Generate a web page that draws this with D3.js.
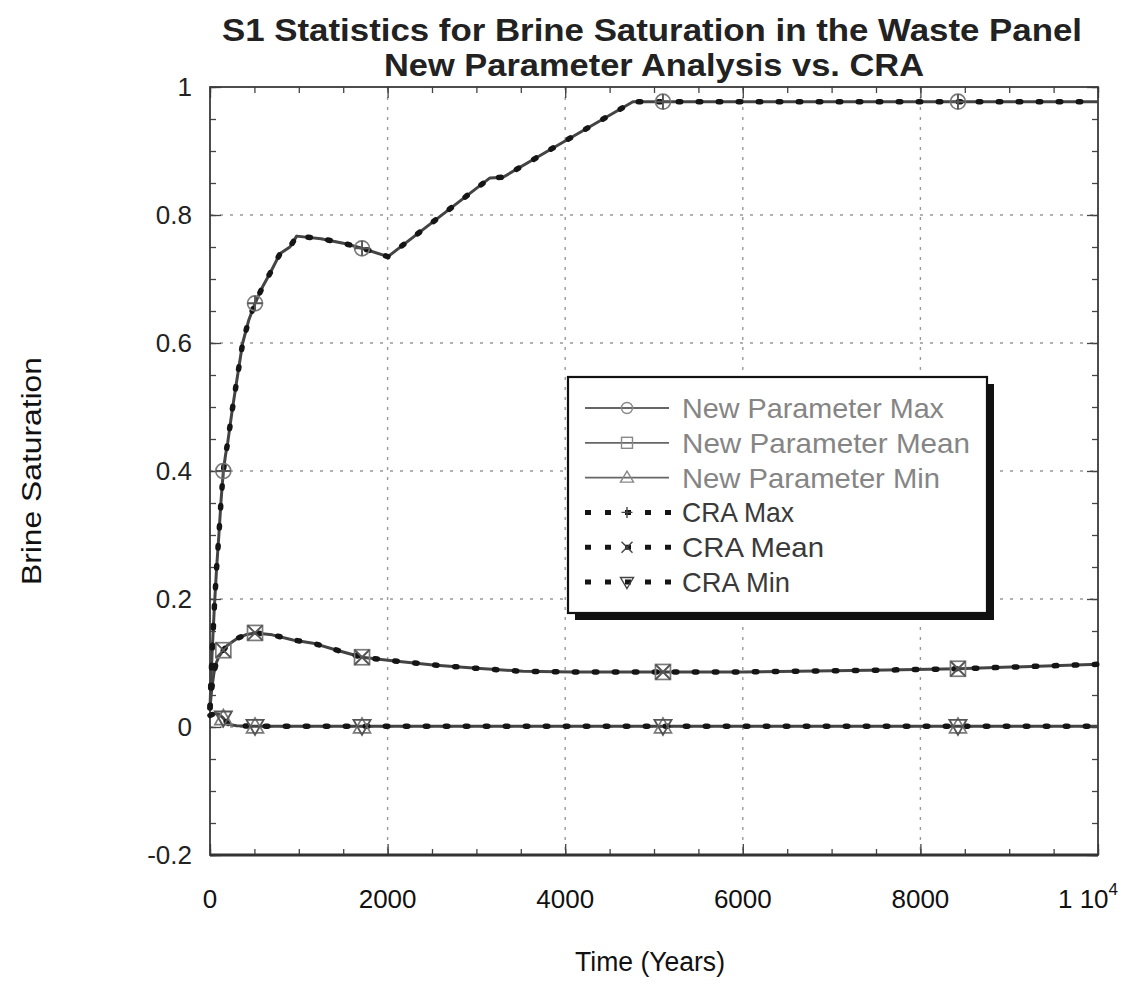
<!DOCTYPE html>
<html>
<head>
<meta charset="utf-8">
<script src="https://cdn.jsdelivr.net/npm/d3@7"></script>
<style>
  body { margin: 0; background: #fff; }
  svg { display: block; }
  text { font-family: "Liberation Sans", Arial, sans-serif; }
</style>
</head>
<body>
<svg id="chart" width="1143" height="993"></svg>
<script>
// ---------------- DATA ----------------
const titleLines = ["S1 Statistics for Brine Saturation in the Waste Panel", "New Parameter Analysis vs. CRA"];
const xLabel = "Time (Years)";
const yLabel = "Brine Saturation";

const xTickValues = [0, 2000, 4000, 6000, 8000, 10000];
const xTickLabels = ["0", "2000", "4000", "6000", "8000", "1 10"];
const yTickValues = [-0.2, 0, 0.2, 0.4, 0.6, 0.8, 1];
const yTickLabels = ["-0.2", "0", "0.2", "0.4", "0.6", "0.8", "1"];

const markerTimes = [150, 507, 1712, 5101, 8423];

// New Parameter analysis
const npMaxT = [0, 10, 25, 50, 75, 100, 125, 150, 175, 200, 250, 300, 368, 435, 507, 600, 676, 790, 900, 976, 1250, 1500, 1712, 2004, 2500, 3153, 3300, 3829, 4763, 5101, 6000, 7000, 8423, 10000];
const npMaxV = [0.03, 0.07, 0.12, 0.19, 0.25, 0.30, 0.355, 0.40, 0.425, 0.445, 0.495, 0.54, 0.60, 0.635, 0.662, 0.69, 0.709, 0.74, 0.75, 0.767, 0.763, 0.756, 0.748, 0.735, 0.788, 0.858, 0.859, 0.902, 0.977, 0.977, 0.977, 0.977, 0.977, 0.977];

const npMeanT = [0, 10, 20, 45, 70, 100, 150, 200, 260, 315, 400, 507, 700, 935, 1160, 1430, 1712, 2027, 2511, 2962, 3525, 4088, 5101, 6000, 7620, 8423, 10000];
const npMeanV = [0.03, 0.045, 0.06, 0.085, 0.1, 0.11, 0.12, 0.128, 0.134, 0.139, 0.144, 0.147, 0.144, 0.136, 0.131, 0.12, 0.109, 0.104, 0.097, 0.092, 0.087, 0.086, 0.086, 0.086, 0.089, 0.091, 0.098];

const npMinT = [0, 50, 100, 150, 170, 200, 250, 300, 507, 1000, 1712, 3000, 5101, 8423, 10000];
const npMinV = [0.018, 0.021, 0.02, 0.014, 0.01, 0.006, 0.003, 0.002, 0.001, 0.001, 0.001, 0.001, 0.001, 0.001, 0.001];

// CRA (visually coincident with the new parameter curves)
const craMaxT = [0, 10, 25, 50, 75, 100, 125, 150, 175, 200, 250, 300, 368, 435, 507, 600, 676, 790, 900, 976, 1250, 1500, 1712, 2004, 2500, 3153, 3300, 3829, 4763, 5101, 6000, 7000, 8423, 10000];
const craMaxV = [0.03, 0.07, 0.12, 0.19, 0.25, 0.30, 0.355, 0.40, 0.425, 0.445, 0.495, 0.54, 0.60, 0.635, 0.662, 0.69, 0.709, 0.74, 0.75, 0.767, 0.763, 0.756, 0.748, 0.735, 0.788, 0.858, 0.859, 0.902, 0.977, 0.977, 0.977, 0.977, 0.977, 0.977];

const craMeanT = [0, 10, 20, 45, 70, 100, 150, 200, 260, 315, 400, 507, 700, 935, 1160, 1430, 1712, 2027, 2511, 2962, 3525, 4088, 5101, 6000, 7620, 8423, 10000];
const craMeanV = [0.03, 0.045, 0.06, 0.085, 0.1, 0.11, 0.12, 0.128, 0.134, 0.139, 0.144, 0.147, 0.144, 0.136, 0.131, 0.12, 0.109, 0.104, 0.097, 0.092, 0.087, 0.086, 0.086, 0.086, 0.089, 0.091, 0.098];

const craMinT = [0, 50, 100, 150, 170, 200, 250, 300, 507, 1000, 1712, 3000, 5101, 8423, 10000];
const craMinV = [0.018, 0.021, 0.02, 0.014, 0.01, 0.006, 0.003, 0.002, 0.001, 0.001, 0.001, 0.001, 0.001, 0.001, 0.001];

const seriesNames = ["New Parameter Max", "New Parameter Mean", "New Parameter Min", "CRA Max", "CRA Mean", "CRA Min"];
const seriesMarkers = ["circle", "square", "triangleUp", "plus", "cross", "triangleDown"];

// ---------------- CHART ----------------
const svg = d3.select("#chart");
const W = 1143, H = 993;
svg.append("rect").attr("width", W).attr("height", H).attr("fill", "#fff");

const plot = { left: 210, right: 1098, top: 87, bottom: 855 };
const x = d3.scaleLinear().domain([0, 10000]).range([plot.left, plot.right]);
const y = d3.scaleLinear().domain([-0.2, 1]).range([plot.bottom, plot.top]);

// gridlines
const grid = svg.append("g").attr("stroke", "#999").attr("stroke-width", 1.4).attr("stroke-dasharray", "3,7");
grid.selectAll("line.gx").data(xTickValues.slice(1, -1)).join("line")
  .attr("x1", d => x(d)).attr("x2", d => x(d)).attr("y1", plot.top).attr("y2", plot.bottom);
grid.selectAll("line.gy").data(yTickValues.slice(1, -1)).join("line")
  .attr("y1", d => y(d)).attr("y2", d => y(d)).attr("x1", plot.left).attr("x2", plot.right);

// axes (inward ticks on all four sides)
const xMinor = d3.range(0, 10001, 500);
const yMinor = d3.range(-0.2, 1.0001, 0.05);
function styleAxis(g) {
  g.select(".domain").remove();
  g.selectAll("line").attr("stroke", "#444").attr("stroke-width", 1.3);
  g.selectAll("text").remove();
}
svg.append("g").attr("transform", `translate(0,${plot.bottom})`).call(d3.axisBottom(x).tickValues(xMinor).tickSize(-6)).call(styleAxis);
svg.append("g").attr("transform", `translate(0,${plot.bottom})`).call(d3.axisBottom(x).tickValues(xTickValues).tickSize(-11)).call(styleAxis);
svg.append("g").attr("transform", `translate(0,${plot.top})`).call(d3.axisTop(x).tickValues(xMinor).tickSize(-6)).call(styleAxis);
svg.append("g").attr("transform", `translate(0,${plot.top})`).call(d3.axisTop(x).tickValues(xTickValues).tickSize(-11)).call(styleAxis);
svg.append("g").attr("transform", `translate(${plot.left},0)`).call(d3.axisLeft(y).tickValues(yMinor).tickSize(-6)).call(styleAxis);
svg.append("g").attr("transform", `translate(${plot.left},0)`).call(d3.axisLeft(y).tickValues(yTickValues).tickSize(-11)).call(styleAxis);
svg.append("g").attr("transform", `translate(${plot.right},0)`).call(d3.axisRight(y).tickValues(yMinor).tickSize(-6)).call(styleAxis);
svg.append("g").attr("transform", `translate(${plot.right},0)`).call(d3.axisRight(y).tickValues(yTickValues).tickSize(-11)).call(styleAxis);

// frame
svg.append("rect").attr("x", plot.left).attr("y", plot.top)
  .attr("width", plot.right - plot.left).attr("height", plot.bottom - plot.top)
  .attr("fill", "none").attr("stroke", "#3a3a3a").attr("stroke-width", 1.8);
svg.append("line").attr("x1", plot.left).attr("x2", plot.right).attr("y1", plot.bottom).attr("y2", plot.bottom)
  .attr("stroke", "#333").attr("stroke-width", 2.8);

// tick labels
svg.append("g").selectAll("text").data(yTickValues).join("text")
  .attr("x", plot.left - 18).attr("y", d => y(d)).attr("dy", "0.36em")
  .attr("text-anchor", "end").attr("font-size", 26).attr("fill", "#222")
  .text((d, i) => yTickLabels[i]);
const xl = svg.append("g").selectAll("text").data(xTickValues).join("text")
  .attr("x", (d, i) => i === xTickValues.length - 1 ? x(d) - 10 : x(d)).attr("y", plot.bottom + 53)
  .attr("text-anchor", "middle").attr("font-size", 26).attr("fill", "#111")
  .text((d, i) => xTickLabels[i]);
xl.filter((d, i) => i === xTickValues.length - 1).append("tspan")
  .attr("dy", -13).attr("font-size", 17).text("4");

// axis titles
svg.append("text").attr("x", 650).attr("y", 971)
  .attr("text-anchor", "middle").attr("font-size", 27).attr("fill", "#111")
  .attr("textLength", 150).attr("lengthAdjust", "spacingAndGlyphs").text(xLabel);
svg.append("text").attr("transform", `translate(41,${(plot.top + plot.bottom) / 2}) rotate(-90)`)
  .attr("text-anchor", "middle").attr("font-size", 27).attr("fill", "#111")
  .attr("textLength", 228).attr("lengthAdjust", "spacingAndGlyphs").text(yLabel);

// title
svg.append("text").attr("x", 652).attr("y", 41).attr("text-anchor", "middle")
  .attr("font-size", 32).attr("font-weight", "bold").attr("fill", "#222")
  .attr("textLength", 860).attr("lengthAdjust", "spacingAndGlyphs").text(titleLines[0]);
svg.append("text").attr("x", 654).attr("y", 76).attr("text-anchor", "middle")
  .attr("font-size", 32).attr("font-weight", "bold").attr("fill", "#222")
  .attr("textLength", 540).attr("lengthAdjust", "spacingAndGlyphs").text(titleLines[1]);

// ---------------- SERIES ----------------
const series = [
  { t: npMaxT, v: npMaxV, kind: "np" },
  { t: npMeanT, v: npMeanV, kind: "np" },
  { t: npMinT, v: npMinV, kind: "np" },
  { t: craMaxT, v: craMaxV, kind: "cra" },
  { t: craMeanT, v: craMeanV, kind: "cra" },
  { t: craMinT, v: craMinV, kind: "cra" }
];
series.forEach((s, i) => { s.name = seriesNames[i]; s.marker = seriesMarkers[i]; s.pts = s.t.map((t, j) => [t, s.v[j]]); });

const styles = {
  np: { stroke: "#444", width: 3, dash: null, cap: "butt", mstroke: "#7a7a7a", mwidth: 1.7 },
  cra: { stroke: "#151515", width: 5.5, dash: "2.5,17.5", cap: "round", mstroke: "#555", mwidth: 1.9 }
};

const line = d3.line().x(d => x(d[0])).y(d => y(d[1])).curve(d3.curveLinear);

function drawMarker(g, type, cx, cy, st, r) {
  r = r || 7.5;
  let el;
  if (type === "circle") el = g.append("circle").attr("cx", cx).attr("cy", cy).attr("r", r);
  else if (type === "square") el = g.append("rect").attr("x", cx - r).attr("y", cy - r).attr("width", 2 * r).attr("height", 2 * r);
  else if (type === "triangleUp") el = g.append("path").attr("d", `M${cx},${cy - r - 1}L${cx + r + 1},${cy + r - 1}L${cx - r - 1},${cy + r - 1}Z`);
  else if (type === "triangleDown") el = g.append("path").attr("d", `M${cx},${cy + r + 1}L${cx + r + 1},${cy - r + 1}L${cx - r - 1},${cy - r + 1}Z`);
  else if (type === "plus") el = g.append("path").attr("d", `M${cx - r},${cy}L${cx + r},${cy}M${cx},${cy - r}L${cx},${cy + r}`);
  else if (type === "cross") el = g.append("path").attr("d", `M${cx - r},${cy - r}L${cx + r},${cy + r}M${cx - r},${cy + r}L${cx + r},${cy - r}`);
  el.attr("fill", "none").attr("stroke", st.mstroke).attr("stroke-width", st.mwidth);
}

const gLines = svg.append("g");
["np", "cra"].forEach(kind => {
  series.filter(s => s.kind === kind).forEach(s => {
    const st = styles[kind];
    gLines.append("path").datum(s.pts).attr("d", line)
      .attr("fill", "none").attr("stroke", st.stroke).attr("stroke-width", st.width)
      .attr("stroke-linecap", st.cap).attr("stroke-linejoin", "round")
      .attr("stroke-dasharray", st.dash);
  });
});
const gMarks = svg.append("g");
series.forEach(s => {
  const st = styles[s.kind];
  s.pts.filter(p => markerTimes.includes(p[0])).forEach(p => drawMarker(gMarks, s.marker, x(p[0]), y(p[1]), st));
});

// ---------------- LEGEND ----------------
const lg = { x: 568, y: 377, w: 419, h: 236, shadow: 7 };
svg.append("rect").attr("x", lg.x + lg.shadow).attr("y", lg.y + lg.shadow).attr("width", lg.w).attr("height", lg.h).attr("fill", "#111");
svg.append("rect").attr("x", lg.x).attr("y", lg.y).attr("width", lg.w).attr("height", lg.h).attr("fill", "#fff").attr("stroke", "#111").attr("stroke-width", 2.2);
const rowY = i => lg.y + 31 + i * 34.8;
series.forEach((s, i) => {
  const st = styles[s.kind];
  const g = svg.append("g");
  const yy = rowY(i);
  g.append("line").attr("x1", 585).attr("x2", s.kind === "cra" ? 672 : 669).attr("y1", yy).attr("y2", yy)
    .attr("stroke", s.kind === "np" ? "#666" : st.stroke).attr("stroke-width", s.kind === "np" ? 1.8 : 5)
    .attr("stroke-dasharray", s.kind === "cra" ? "6,14" : null);
  drawMarker(g, s.marker, 627, yy, { mstroke: s.kind === "np" ? "#888" : "#444", mwidth: 1.4 }, 5.5);
  g.append("text").attr("x", 682).attr("y", yy).attr("dy", "0.36em").attr("font-size", 28)
    .attr("fill", s.kind === "np" ? "#858585" : "#3a3a3a")
    .attr("textLength", [262, 288, 258, 112, 142, 108][i]).attr("lengthAdjust", "spacingAndGlyphs")
    .text(s.name);
});
</script>
</body>
</html>
